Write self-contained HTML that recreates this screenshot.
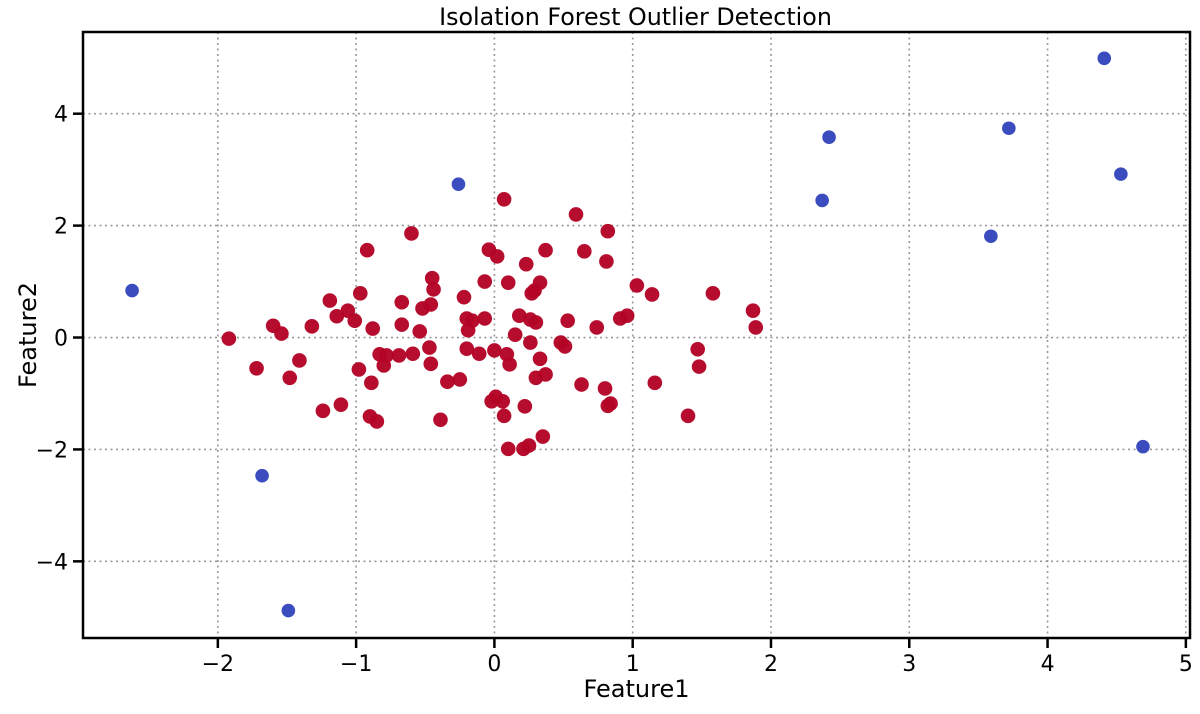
<!DOCTYPE html>
<html><head><meta charset="utf-8"><style>
body{margin:0;background:#fff;}
svg text{font-family:"DejaVu Sans","Liberation Sans",sans-serif;fill:#000;}
</style></head><body>
<svg id="chart" width="1200" height="709" xmlns="http://www.w3.org/2000/svg"></svg>
<script>
const xTicks=[-2,-1,0,1,2,3,4,5];
const yTicks=[-4,-2,0,2,4];
const inlierX=[-1.92,-1.72,-1.60,-1.54,-1.48,-1.41,-1.32,-1.24,-1.19,-1.14,-1.11,-1.06,-1.01,-0.98,-0.97,-0.92,-0.90,-0.88,-0.89,-0.85,-0.83,-0.80,-0.78,-0.69,-0.67,-0.67,-0.60,-0.59,-0.54,-0.52,-0.47,-0.46,-0.46,-0.45,-0.44,-0.39,-0.34,-0.25,-0.22,-0.20,-0.20,-0.19,-0.16,-0.11,-0.07,-0.07,-0.04,-0.02,0.00,0.01,0.02,0.07,0.06,0.07,0.09,0.10,0.10,0.11,0.15,0.18,0.21,0.22,0.23,0.25,0.26,0.26,0.27,0.29,0.30,0.30,0.33,0.33,0.35,0.37,0.37,0.48,0.51,0.53,0.59,0.63,0.65,0.74,0.80,0.81,0.82,0.84,0.82,0.91,0.96,1.03,1.14,1.16,1.40,1.47,1.48,1.58,1.87,1.89];
const inlierY=[-0.02,-0.55,0.21,0.07,-0.72,-0.41,0.20,-1.31,0.66,0.38,-1.20,0.48,0.30,-0.57,0.79,1.56,-1.41,0.16,-0.81,-1.50,-0.30,-0.50,-0.32,-0.32,0.63,0.23,1.86,-0.29,0.11,0.52,-0.18,-0.47,0.59,1.06,0.86,-1.47,-0.79,-0.75,0.72,0.34,-0.20,0.13,0.30,-0.29,0.34,1.00,1.57,-1.14,-0.23,-1.06,1.45,2.47,-1.14,-1.40,-0.30,0.98,-1.99,-0.48,0.05,0.39,-1.99,-1.23,1.31,-1.93,0.32,-0.09,0.79,0.84,0.27,-0.72,0.98,-0.38,-1.77,1.56,-0.66,-0.09,-0.16,0.30,2.20,-0.84,1.54,0.18,-0.91,1.36,-1.22,-1.18,1.90,0.34,0.39,0.93,0.77,-0.81,-1.40,-0.21,-0.52,0.79,0.48,0.18];
const outlierX=[-2.62,-0.26,-1.68,-1.49,2.42,2.37,3.59,3.72,4.41,4.53,4.69];
const outlierY=[0.84,2.74,-2.47,-4.88,3.58,2.45,1.81,3.74,4.99,2.92,-1.95];

const L=83,R=1190,T=32,B=638;
const xMin=-2.975,xMax=5.03,yMin=-5.37,yMax=5.46;
const sx=v=>L+(v-xMin)/(xMax-xMin)*(R-L);
const sy=v=>B-(v-yMin)/(yMax-yMin)*(B-T);
const NS="http://www.w3.org/2000/svg";
const svg=document.getElementById('chart');
function mk(tag,attrs,parent){const e=document.createElementNS(NS,tag);for(const k in attrs)e.setAttribute(k,attrs[k]);(parent||svg).appendChild(e);return e;}

const grid=mk('g',{});


xTicks.forEach(t=>{const l=mk('line',{x1:sx(t),x2:sx(t),y1:T,y2:B,stroke:'#999','stroke-width':1.6,'stroke-dasharray':'2,3.5'},grid);

});
yTicks.forEach(t=>{const l=mk('line',{x1:L,x2:R,y1:sy(t),y2:sy(t),stroke:'#999','stroke-width':1.6,'stroke-dasharray':'2,3.5'},grid);

});

const pts=mk('g',{});


inlierX.forEach((x,i)=>{const c=mk('circle',{cx:sx(x),cy:sy(inlierY[i]),r:7.3,fill:'#b40426','fill-opacity':0.97},pts);

});
outlierX.forEach((x,i)=>{const c=mk('circle',{cx:sx(x),cy:sy(outlierY[i]),r:6.8,fill:'#3546bd','fill-opacity':0.97},pts);

});

const ax=mk('g',{});


mk('rect',{x:L,y:T,width:R-L,height:B-T,fill:'none',stroke:'#000','stroke-width':2.5},ax);
xTicks.forEach(t=>{mk('line',{x1:sx(t),x2:sx(t),y1:B,y2:B+10,stroke:'#000','stroke-width':2.5},ax);
const tx=mk('text',{x:sx(t),y:B+33,'text-anchor':'middle','font-size':22},ax);tx.textContent=(t<0?'\u2212'+(-t):t);

});
yTicks.forEach(t=>{mk('line',{x1:L-10,x2:L,y1:sy(t),y2:sy(t),stroke:'#000','stroke-width':2.5},ax);
const tx=mk('text',{x:L-15,y:sy(t)+8,'text-anchor':'end','font-size':22},ax);tx.textContent=(t<0?'\u2212'+(-t):t);

});
const title=mk('text',{x:(L+R)/2-1,y:25,'text-anchor':'middle','font-size':23.8});title.textContent='Isolation Forest Outlier Detection';


const xl=mk('text',{x:(L+R)/2,y:697,'text-anchor':'middle','font-size':24});xl.textContent='Feature1';


const yl=mk('text',{x:0,y:0,'text-anchor':'middle','font-size':24,transform:'translate(36,'+((T+B)/2)+') rotate(-90)'});yl.textContent='Feature2';


</script>
</body></html>
